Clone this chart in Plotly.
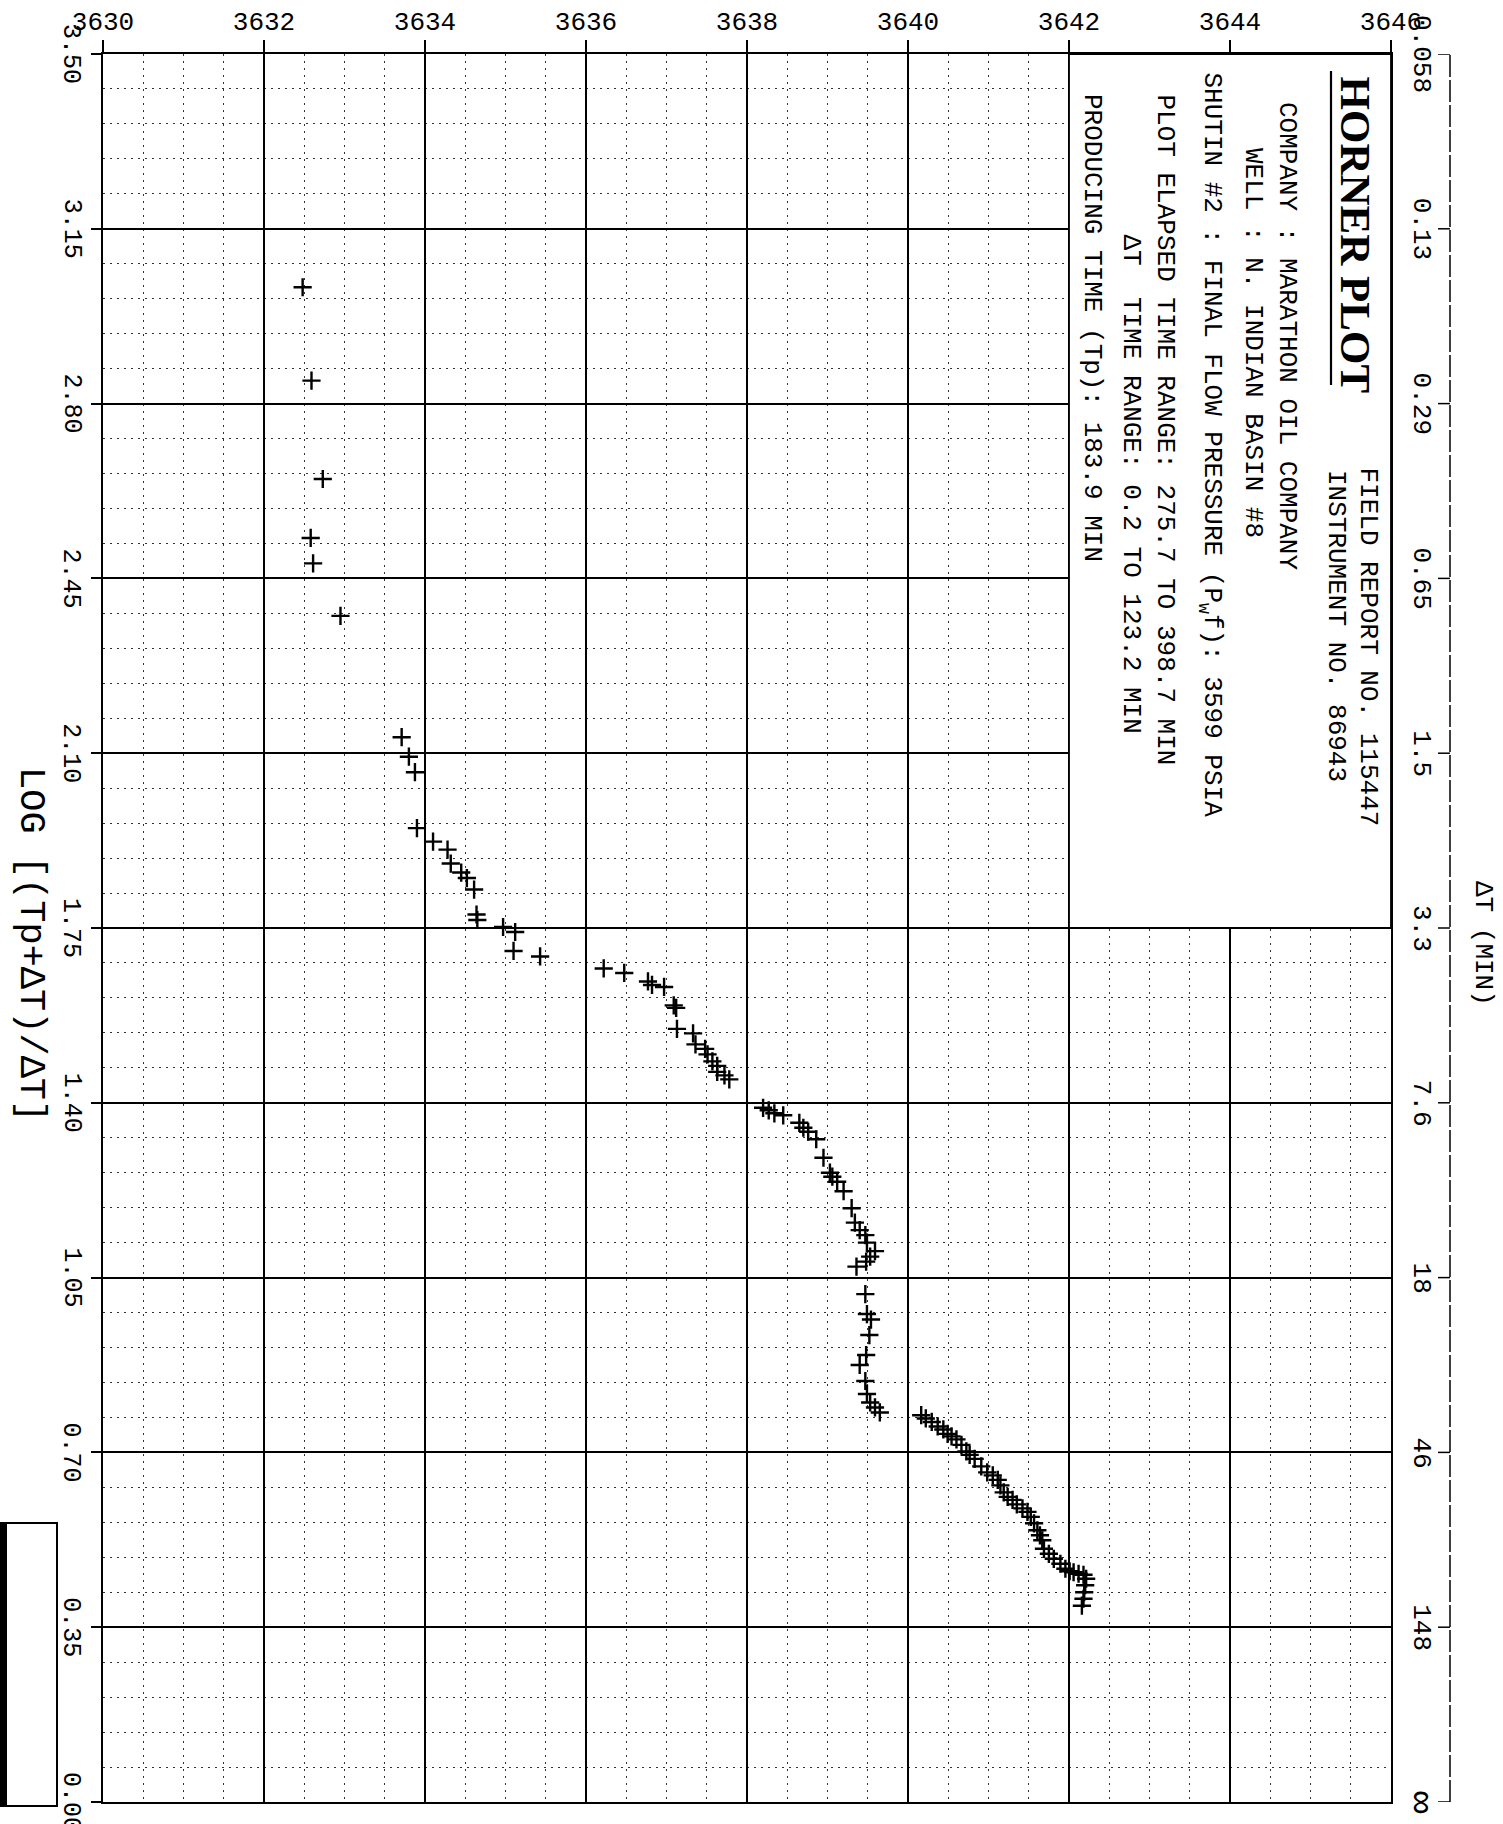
import plotly.graph_objects as go

# ---------------- data ----------------
PRESSURE = [
    3632.48, 3632.59, 3632.73, 3632.58, 3632.61, 3632.95,
    3633.71, 3633.80, 3633.875, 3633.90, 3634.10, 3634.28, 3634.32, 3634.45,
    3634.52, 3634.61, 3634.64, 3634.65, 3634.97, 3635.12, 3635.10, 3635.43,
    3636.22, 3636.475, 3636.77, 3636.82, 3636.97, 3637.09, 3637.12, 3637.13,
    3637.33, 3637.36, 3637.48, 3637.51, 3637.57, 3637.63, 3637.63, 3637.72, 3637.78,
    3638.20, 3638.27, 3638.34, 3638.45, 3638.65, 3638.70, 3638.76, 3638.86,
    3638.95, 3639.03, 3639.06, 3639.12, 3639.20, 3639.30, 3639.34, 3639.40,
    3639.47, 3639.49, 3639.59, 3639.53, 3639.48, 3639.36,
    3639.47, 3639.49, 3639.54, 3639.52, 3639.48, 3639.40, 3639.47, 3639.49,
    3639.53, 3639.59, 3639.65,
    3640.164, 3640.221, 3640.295, 3640.369, 3640.439, 3640.492, 3640.541, 3640.602,
    3640.664, 3640.725, 3640.766, 3640.828, 3640.910, 3640.984, 3641.053, 3641.115,
    3641.148, 3641.189, 3641.238, 3641.299, 3641.352, 3641.422, 3641.484, 3641.525,
    3641.566, 3641.607, 3641.639, 3641.668, 3641.689, 3641.750, 3641.811, 3641.893,
    3641.955, 3642.008, 3642.057, 3642.119, 3642.180, 3642.213, 3642.201, 3642.189,
    3642.180, 3642.160,
]
LOG_HORNER = [
    3.033, 2.846, 2.649, 2.531, 2.480, 2.375,
    2.132, 2.093, 2.062, 1.950, 1.923, 1.907, 1.879, 1.861,
    1.850, 1.827, 1.777, 1.766, 1.752, 1.742, 1.704, 1.693,
    1.669, 1.660, 1.643, 1.636, 1.632, 1.595, 1.590, 1.548,
    1.539, 1.517, 1.508, 1.497, 1.483, 1.474, 1.462, 1.455, 1.447,
    1.390, 1.385, 1.379, 1.375, 1.360, 1.350, 1.342, 1.327,
    1.290, 1.260, 1.252, 1.242, 1.223, 1.189, 1.160, 1.145,
    1.135, 1.120, 1.103, 1.092, 1.082, 1.072,
    1.017, 0.977, 0.966, 0.935, 0.895, 0.875, 0.843, 0.817,
    0.800, 0.790, 0.780,
    0.7745, 0.768, 0.761, 0.752, 0.746, 0.737, 0.732, 0.726,
    0.715, 0.702, 0.695, 0.687, 0.672, 0.660, 0.654, 0.645,
    0.634, 0.620, 0.611, 0.605, 0.596, 0.588, 0.581, 0.571,
    0.558, 0.544, 0.534, 0.524, 0.507, 0.497, 0.487, 0.477,
    0.467, 0.462, 0.460, 0.457, 0.455, 0.447, 0.434, 0.420,
    0.407, 0.393,
]
X_TICKS = [3630, 3632, 3634, 3636, 3638, 3640, 3642, 3644, 3646]
X_TICK_TEXT = ["3630", "3632", "3634", "3636", "3638", "3640", "3642", "3644", "3646"]
Y_TICKS = [3.50, 3.15, 2.80, 2.45, 2.10, 1.75, 1.40, 1.05, 0.70, 0.35, 0.00]
Y_TICK_TEXT = ["3.50", "3.15", "2.80", "2.45", "2.10", "1.75", "1.40", "1.05", "0.70", "0.35", "0.00"]
DT_TICK_TEXT = ["0.058", "0.13", "0.29", "0.65", "1.5", "3.3", "7.6", "18", "46", "148", "∞"]

X_RANGE = [3630, 3646]
Y_RANGE = [0, 3.5]
BOX_X = [3642, 3646]
BOX_Y = [1.75, 3.5]

# ---------------- geometry (pixels) ----------------
W, H = 1503, 1824
L, T, B, R, RA = 103, 54, 1802, 1391, 1450

MONO = "Liberation Mono"
INK = "black"


def px(xp):
    return (xp - L) / (RA - L)


def py(yp):
    return (B - yp) / (B - T)


fig = go.Figure()
fig.add_trace(go.Scatter(
    x=PRESSURE, y=LOG_HORNER, mode="markers",
    marker=dict(symbol="cross-thin", size=13, color=INK, line=dict(width=2.4, color=INK)),
    showlegend=False, hoverinfo="skip",
))

shapes = []
# text box region (no grid)
shapes.append(dict(type="rect", xref="x", yref="y", x0=BOX_X[0], x1=BOX_X[1], y0=BOX_Y[0], y1=BOX_Y[1],
                   fillcolor="white", line=dict(color=INK, width=1.8), layer="above"))
# HORNER PLOT underline
shapes.append(dict(type="line", xref="paper", yref="paper", x0=px(1331), x1=px(1331), y0=py(71), y1=py(385),
                   line=dict(color=INK, width=2.2)))
# right delta-T axis (dashed) + ticks
shapes.append(dict(type="line", xref="paper", yref="paper", x0=1, x1=1, y0=0, y1=1,
                   line=dict(color=INK, width=1.5, dash="22px,3px")))
for yv in Y_TICKS:
    shapes.append(dict(type="line", xref="paper", yref="y", x0=1 - 12 / (RA - L), x1=1, y0=yv, y1=yv,
                       line=dict(color=INK, width=1.5)))
# bottom-left label box
shapes.append(dict(type="rect", xref="paper", yref="paper", x0=px(1), x1=px(57), y0=py(1806), y1=py(1523),
                   fillcolor="white", line=dict(color=INK, width=2)))
shapes.append(dict(type="rect", xref="paper", yref="paper", x0=px(0), x1=px(7), y0=py(1806), y1=py(1523),
                   fillcolor=INK, line=dict(width=0)))

ann = []
for yv, t in zip(Y_TICKS, Y_TICK_TEXT):
    ann.append(dict(text=t, xref="paper", yref="y", x=px(71), y=yv, textangle=90, showarrow=False,
                    xanchor="center", yanchor="middle", font=dict(family=MONO, size=25, color=INK)))
for yv, t in zip(Y_TICKS, DT_TICK_TEXT):
    size = 38 if t == "∞" else 26
    ann.append(dict(text=t, xref="paper", yref="y", x=px(1421), y=yv, textangle=90, showarrow=False,
                    xanchor="center", yanchor="middle", font=dict(family=MONO, size=size, color=INK)))

ann.append(dict(text="LOG [(Tp+ΔT)/ΔT]", xref="paper", yref="paper", x=px(31), y=py(944), textangle=90,
                showarrow=False, xanchor="center", yanchor="middle", font=dict(family=MONO, size=37, color=INK)))
ann.append(dict(text="ΔT (MIN)", xref="paper", yref="paper", x=px(1483), y=py(943), textangle=90,
                showarrow=False, xanchor="center", yanchor="middle", font=dict(family=MONO, size=26, color=INK)))

box_lines = [
    ("FIELD REPORT NO. 115447", 1368, 465),
    ("INSTRUMENT NO. 86943", 1336, 468),
    ("COMPANY : MARATHON OIL COMPANY", 1287, 100),
    ("WELL : N. INDIAN BASIN #8", 1253, 146),
    ("SHUTIN #2 : FINAL FLOW PRESSURE (P<sub>w</sub>f): 3599 PSIA", 1210, 70),
    ("PLOT ELAPSED TIME RANGE: 275.7 TO 398.7 MIN", 1165, 92),
    ("ΔT  TIME RANGE: 0.2 TO 123.2 MIN", 1130, 232),
    ("PRODUCING TIME (Tp): 183.9 MIN", 1092, 92),
]
for t, xc, yt in box_lines:
    ann.append(dict(text=t, xref="paper", yref="paper", x=px(xc), y=py(yt), textangle=90, showarrow=False,
                    xanchor="center", yanchor="top", font=dict(family=MONO, size=26, color=INK)))
ann.append(dict(text="<b>HORNER PLOT</b>", xref="paper", yref="paper", x=px(1355), y=py(74), textangle=90,
                showarrow=False, xanchor="center", yanchor="top",
                font=dict(family="Liberation Serif", size=43, color=INK)))

fig.update_layout(
    width=W, height=H,
    margin=dict(l=L, r=W - RA, t=T, b=H - B, pad=0),
    paper_bgcolor="white", plot_bgcolor="white",
    showlegend=False,
    shapes=shapes, annotations=ann,
    xaxis=dict(
        domain=[0, (R - L) / (RA - L)], range=X_RANGE, side="top",
        tickmode="array", tickvals=X_TICKS, ticktext=X_TICK_TEXT,
        ticks="outside", ticklen=12, tickwidth=1.6, tickcolor=INK,
        tickfont=dict(family=MONO, size=26, color=INK), ticklabelstandoff=0,
        showline=True, linecolor=INK, linewidth=2, mirror=True,
        showgrid=True, gridcolor=INK, gridwidth=1.7, zeroline=False, automargin=False,
        minor=dict(tickmode="linear", tick0=3630, dtick=0.5, showgrid=True, gridcolor="#333",
                   gridwidth=1, griddash="1.5px,5.5px"),
    ),
    yaxis=dict(
        range=Y_RANGE, tickmode="array", tickvals=Y_TICKS, showticklabels=False,
        ticks="outside", ticklen=10, tickwidth=1.6, tickcolor=INK,
        showline=True, linecolor=INK, linewidth=2, mirror=True,
        showgrid=True, gridcolor=INK, gridwidth=1.7, zeroline=False, automargin=False,
        minor=dict(tickmode="linear", tick0=0, dtick=0.07, showgrid=True, gridcolor="#333",
                   gridwidth=1, griddash="1.5px,5.5px"),
    ),
)

fig.write_html("out.html", config={"displayModeBar": False},
               post_script="document.body.style.margin='0';document.body.style.overflow='hidden';")
